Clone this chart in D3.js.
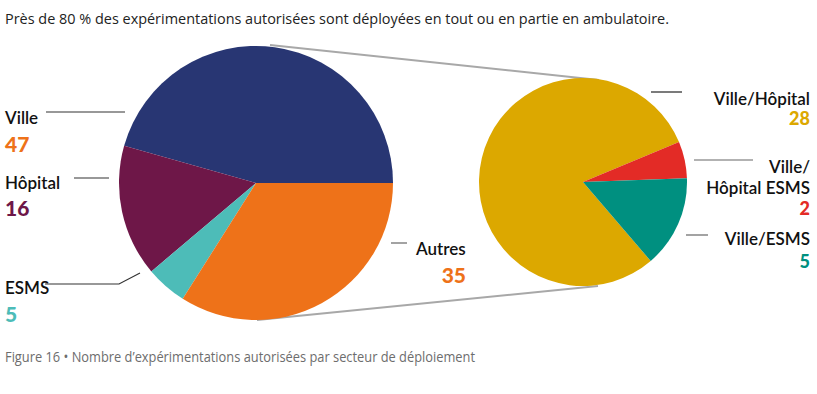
<!DOCTYPE html>
<html><head><meta charset="utf-8">
<script src="https://cdn.jsdelivr.net/npm/d3@7"></script>
<style>body{margin:0;background:#fff}</style>
</head><body>
<svg id="c" width="817" height="394"></svg>
<script>
const mainCategories = ["Ville", "Hôpital", "ESMS", "Autres"];
const mainValues = [47, 16, 5, 35];
const mainColors = ["#283673", "#6e1748", "#4dbcb8", "#ee7219"];
const subCategories = ["Ville/Hôpital", "Ville/Hôpital ESMS", "Ville/ESMS"];
const subValues = [28, 2, 5];
const subColors = ["#dca800", "#e32b26", "#009080"];
const titleText = "Près de 80 % des expérimentations autorisées sont déployées en tout ou en partie en ambulatoire.";
const captionText = "Figure 16 • Nombre d’expérimentations autorisées par secteur de déploiement";

const svg = d3.select("#c");
const deg = Math.PI / 180;

// title & caption
svg.append("text").attr("x", 5).attr("y", 24).attr("font-family", "Open Sans")
  .attr("font-size", 15).attr("fill", "#222")
  .attr("textLength", 664).attr("lengthAdjust", "spacingAndGlyphs").text(titleText);
svg.append("text").attr("x", 5).attr("y", 362).attr("font-family", "Open Sans")
  .attr("font-size", 14).attr("fill", "#6d6d6d")
  .attr("textLength", 470).attr("lengthAdjust", "spacingAndGlyphs").text(captionText);

// connectors
svg.append("line").attr("x1", 270).attr("y1", 45).attr("x2", 599).attr("y2", 80)
  .attr("stroke", "#a8a8a8").attr("stroke-width", 2);
svg.append("line").attr("x1", 257).attr("y1", 320).attr("x2", 598).attr("y2", 286)
  .attr("stroke", "#a8a8a8").attr("stroke-width", 2);

// main pie
const mainPie = d3.pie().sort(null).startAngle(90 * deg).endAngle(90 * deg - 2 * Math.PI);
const mainArc = d3.arc().innerRadius(0).outerRadius(137);
svg.append("g").attr("transform", "translate(256,183)")
  .selectAll("path").data(mainPie(mainValues)).join("path")
  .attr("d", mainArc).attr("fill", (d, i) => mainColors[i]);

// sub pie (gold, red, green clockwise starting lower-right)
const subPie = d3.pie().sort(null).startAngle(139.4 * deg).endAngle(139.4 * deg + 2 * Math.PI);
const subArc = d3.arc().innerRadius(0).outerRadius(104);
svg.append("g").attr("transform", "translate(583,182)")
  .selectAll("path").data(subPie(subValues)).join("path")
  .attr("d", subArc).attr("fill", (d, i) => subColors[i]);

// leader lines
const leaders = [
  {pts: [[46,112],[125,112]], c: "#333"},
  {pts: [[74,178],[109,178]], c: "#333"},
  {pts: [[45,284],[119,284],[140,273]], c: "#333"},
  {pts: [[391,243],[407,243]], c: "#666"},
  {pts: [[651,92],[682,92]], c: "#222"},
  {pts: [[694,160],[753,160]], c: "#666"},
  {pts: [[686,235],[708,235]], c: "#666"}
];
svg.append("g").selectAll("path").data(leaders).join("path")
  .attr("d", d => d3.line()(d.pts)).attr("fill", "none")
  .attr("stroke", d => d.c).attr("stroke-width", 1.2);

// labels
const LF = "Lato";
function label(x, anchor, lines) {
  lines.forEach(l => {
    svg.append("text").attr("x", x).attr("y", l.y).attr("text-anchor", anchor)
      .attr("font-family", LF).attr("font-weight", l.num ? 900 : 600)
      .attr("font-size", l.fs || 17).attr("fill", l.c || "#111").text(l.t);
  });
}
label(5, "start", [{t: mainCategories[0], y: 124}, {t: mainValues[0], y: 152, num: 1, fs: 21, c: mainColors[3]}]);
label(5, "start", [{t: mainCategories[1], y: 189}, {t: mainValues[1], y: 216, num: 1, fs: 21, c: mainColors[1]}]);
label(5, "start", [{t: mainCategories[2], y: 294}, {t: mainValues[2], y: 322, num: 1, fs: 21, c: mainColors[2]}]);
label(416, "start", [{t: mainCategories[3], y: 255}]);
label(466, "end", [{t: mainValues[3], y: 283, num: 1, fs: 21, c: mainColors[3]}]);
label(810, "end", [{t: subCategories[0], y: 105}, {t: subValues[0], y: 125, num: 1, fs: 18, c: subColors[0]}]);
label(810, "end", [{t: "Ville/", y: 173}, {t: "Hôpital ESMS", y: 194}, {t: subValues[1], y: 215, num: 1, fs: 18, c: subColors[1]}]);
label(810, "end", [{t: subCategories[2], y: 245}, {t: subValues[2], y: 268, num: 1, fs: 18, c: subColors[2]}]);
</script>
</body></html>
